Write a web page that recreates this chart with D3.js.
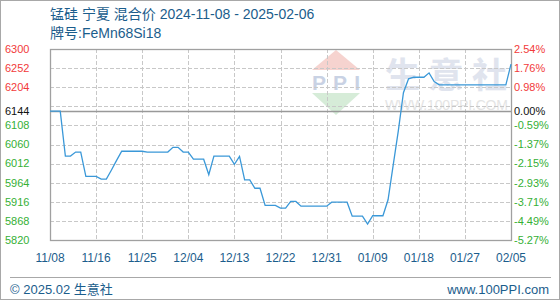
<!DOCTYPE html>
<html>
<head>
<meta charset="utf-8">
<script src="https://cdn.jsdelivr.net/npm/d3@7"></script>
<style>
  body { margin: 0; background: #fff; }
  svg text { font-family: "Liberation Sans", Arial, "Noto Sans CJK SC", sans-serif; }
</style>
</head>
<body>
<script>
// 锰硅 宁夏 混合价, daily values from 2024-11-08 (day 0) to 2025-02-06 (day 90)
var prices = [
  6144, 6144, 6144, 6031, 6031, 6041, 6041, 5980, 5980, 5980,
  5973, 5973, 5996, 6020, 6043, 6043, 6043, 6043, 6043, 6041,
  6041, 6041, 6041, 6041, 6053, 6053, 6041, 6041, 6023, 6023,
  6023, 5984, 6031, 6031, 6031, 6031, 6010, 6030, 5971, 5971,
  5950, 5950, 5907, 5907, 5907, 5900, 5900, 5917, 5917, 5905,
  5905, 5905, 5905, 5905, 5905, 5915, 5915, 5915, 5915, 5880,
  5880, 5880, 5860, 5881, 5881, 5881, 5921, 6008, 6094, 6190,
  6225, 6229, 6229, 6229, 6240, 6218, 6210, 6210, 6210, 6210,
  6210, 6210, 6210, 6210, 6210, 6210, 6210, 6210, 6210, 6210,
  6262
];
var basePrice = 6144;
var yTickValues = [6300, 6252, 6204, 6144, 6108, 6060, 6012, 5964, 5916, 5868, 5820];
var yTickLabels = ["6300", "6252", "6204", "6144", "6108", "6060", "6012", "5964", "5916", "5868", "5820"];
var pctLabels = ["2.54%", "1.76%", "0.98%", "0.00%", "-0.59%", "-1.37%", "-2.15%", "-2.93%", "-3.71%", "-4.49%", "-5.27%"];
var gridValues = [6252, 6204, 6156, 6108, 6060, 6012, 5964, 5916, 5868];
var xTickLabels = ["11/08", "11/16", "11/25", "12/04", "12/13", "12/22", "12/31", "01/09", "01/18", "01/27", "02/05"];

var width = 560, height = 300;
var plotL = 50, plotR = 511, plotT = 49, plotB = 240;

var svg = d3.select("body").append("svg")
  .attr("width", width)
  .attr("height", height);

// outer frame
svg.append("rect")
  .attr("x", 0.5).attr("y", 0.5)
  .attr("width", width - 1).attr("height", height - 1)
  .attr("fill", "#fff").attr("stroke", "#a8a8a8");

// title
svg.append("text").attr("x", 50).attr("y", 18.5)
  .attr("font-size", "14px").attr("fill", "#1b5d8c")
  .text("锰硅 宁夏 混合价 2024-11-08 - 2025-02-06");
svg.append("text").attr("x", 50).attr("y", 37.5)
  .attr("font-size", "14px").attr("fill", "#1b5d8c")
  .text("牌号:FeMn68Si18");

var x = d3.scaleLinear().domain([0, prices.length - 1]).range([plotL, plotR]);
var y = d3.scaleLinear().domain([5820, 6300]).range([plotB, plotT]);
var xLab = d3.scalePoint().domain(xTickLabels).range([plotL, plotR]);

// watermark
var wm = svg.append("g");
wm.append("polygon")
  .attr("points", "336,50 360,70 312,70")
  .attr("fill", "#f6d3cf");
wm.append("text").attr("x", 336).attr("y", 90)
  .attr("text-anchor", "middle")
  .attr("font-family", "'Liberation Serif', 'DejaVu Serif', serif")
  .attr("font-weight", "bold")
  .attr("font-size", "21px")
  .attr("textLength", 48)
  .attr("fill", "#c9d2e4")
  .text("PPI");
wm.append("polygon")
  .attr("points", "312,93 360,93 336,115")
  .attr("fill", "#d6ecd8");
wm.append("text").attr("x", 385).attr("y", 88)
  .attr("font-family", "'Noto Sans CJK SC', sans-serif")
  .attr("font-weight", "bold")
  .attr("font-size", "35px")
  .attr("textLength", 122)
  .attr("fill", "#e0e4ee")
  .text("生意社");
wm.append("text").attr("x", 385).attr("y", 110)
  .attr("font-size", "14px")
  .attr("textLength", 123)
  .attr("fill", "#e4e4e4")
  .text("WWW.100PPI.COM");

// grid
svg.append("g").selectAll("line").data(gridValues).enter()
  .append("line")
  .attr("x1", plotL).attr("x2", plotR)
  .attr("y1", function(d) { return Math.round(y(d)) + 0.5; })
  .attr("y2", function(d) { return Math.round(y(d)) + 0.5; })
  .attr("stroke", "#c8c8c8").attr("stroke-dasharray", "4,2");

svg.append("g").selectAll("line").data(xTickLabels.slice(1, -1)).enter()
  .append("line")
  .attr("x1", function(d) { return Math.round(xLab(d)) + 0.5; })
  .attr("x2", function(d) { return Math.round(xLab(d)) + 0.5; })
  .attr("y1", plotT).attr("y2", plotB)
  .attr("stroke", "#c8c8c8").attr("stroke-dasharray", "4,2");

// base line
svg.append("line")
  .attr("x1", plotL).attr("x2", plotR)
  .attr("y1", Math.round(y(basePrice)) + 0.5).attr("y2", Math.round(y(basePrice)) + 0.5)
  .attr("stroke", "#999").attr("stroke-width", 1.5);

// plot frame
svg.append("rect")
  .attr("x", plotL + 0.5).attr("y", plotT + 0.5)
  .attr("width", plotR - plotL).attr("height", plotB - plotT)
  .attr("fill", "none").attr("stroke", "#a0a0a0").attr("stroke-width", 1.3);

function tickColor(v) {
  if (v > basePrice) return "#f23a3a";
  if (v < basePrice) return "#35b035";
  return "#111";
}

// left axis labels
svg.append("g").selectAll("text").data(yTickValues).enter()
  .append("text")
  .attr("x", 5)
  .attr("y", function(d) { return y(d); })
  .attr("dy", "0.35em")
  .attr("font-size", "11px")
  .attr("fill", tickColor)
  .text(function(d, i) { return yTickLabels[i]; });

// right axis labels
svg.append("g").selectAll("text").data(yTickValues).enter()
  .append("text")
  .attr("x", 514)
  .attr("y", function(d) { return y(d); })
  .attr("dy", "0.35em")
  .attr("font-size", "11px")
  .attr("fill", tickColor)
  .text(function(d, i) { return pctLabels[i]; });

// bottom axis labels
svg.append("g").selectAll("text").data(xTickLabels).enter()
  .append("text")
  .attr("x", function(d) { return xLab(d); })
  .attr("y", 258)
  .attr("dy", "0.35em")
  .attr("text-anchor", "middle")
  .attr("font-size", "12px")
  .attr("fill", "#1b5d8c")
  .text(function(d) { return d; });

// price line
var line = d3.line()
  .x(function(d, i) { return x(i); })
  .y(function(d) { return y(d); });

svg.append("path")
  .datum(prices)
  .attr("d", line)
  .attr("fill", "none")
  .attr("stroke", "#3a98d8")
  .attr("stroke-width", 1.3);

// footer
svg.append("line")
  .attr("x1", 10).attr("x2", 551)
  .attr("y1", 277.5).attr("y2", 277.5)
  .attr("stroke", "#a8a8a8");
svg.append("text").attr("x", 10).attr("y", 289).attr("dy", "0.35em")
  .attr("font-size", "13px").attr("fill", "#1b5d8c")
  .text("© 2025.02 生意社");
svg.append("text").attr("x", 549).attr("y", 289).attr("dy", "0.35em")
  .attr("text-anchor", "end")
  .attr("font-size", "13px").attr("fill", "#1b5d8c")
  .text("www.100PPI.com");
</script>
</body>
</html>
